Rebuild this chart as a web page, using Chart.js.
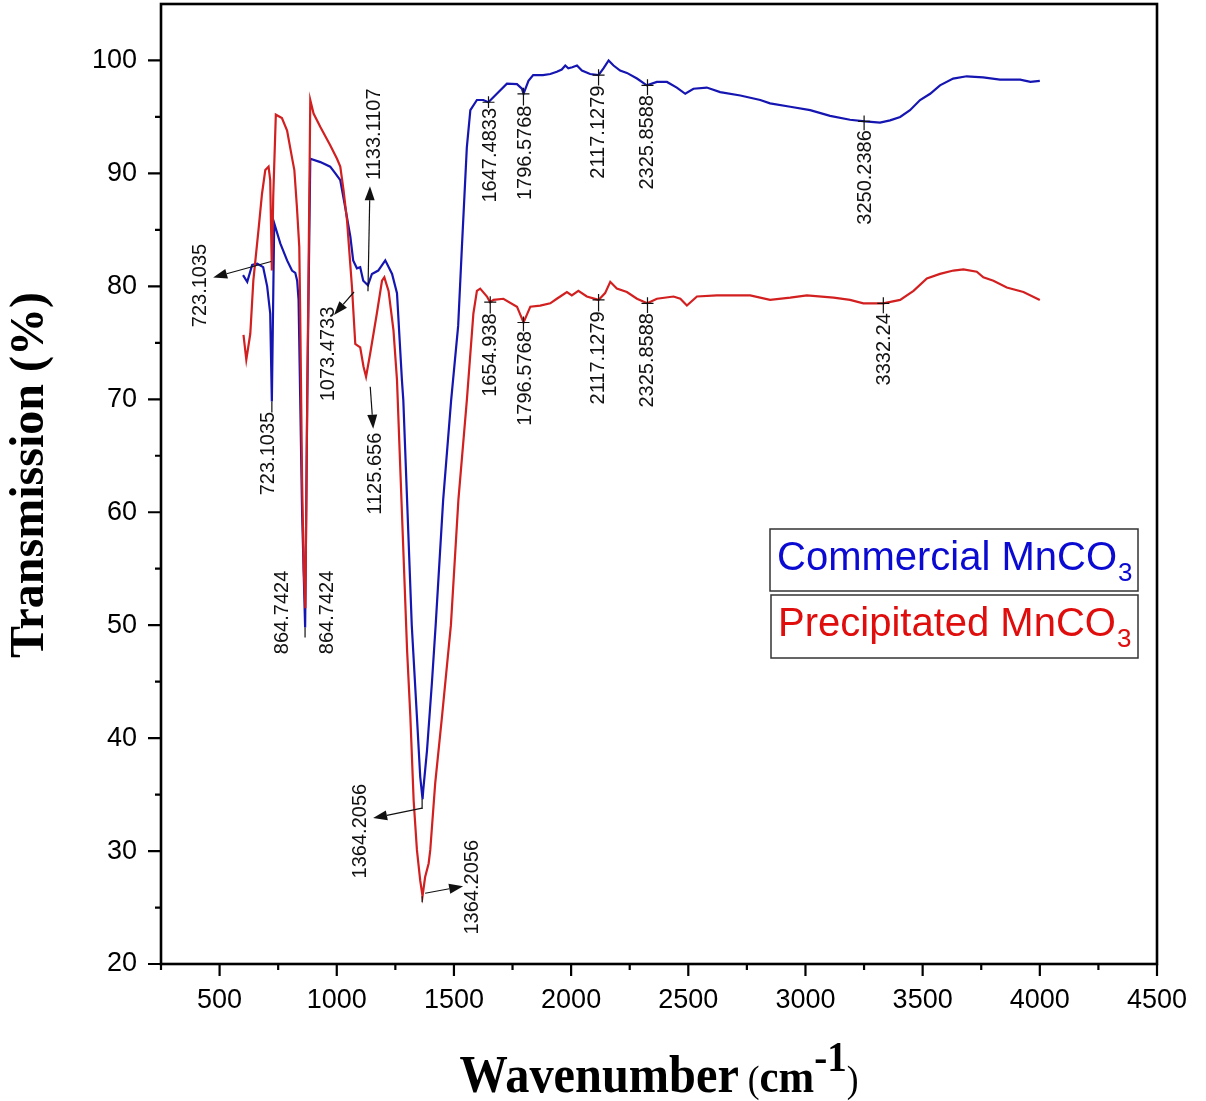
<!DOCTYPE html>
<html>
<head>
<meta charset="utf-8">
<script src="https://cdn.jsdelivr.net/npm/chart.js@4.4.0/dist/chart.umd.min.js"></script>
<style>
  html, body { margin: 0; padding: 0; background: #fff; }
  #wrap { width: 1206px; height: 1101px; }
</style>
</head>
<body>
<div id="wrap"><canvas id="ftir" width="1206" height="1101"></canvas></div>
<script>
// FTIR spectra of commercial vs precipitated MnCO3

const blueWn = [600, 618, 639, 661, 686, 703, 716, 723, 733, 759, 788, 809, 823, 831, 837, 852, 865, 874, 887, 930,
  972, 994, 1015, 1036, 1058, 1070, 1086, 1100, 1113, 1133, 1150, 1177, 1207, 1236, 1257, 1278, 1284, 1300, 1320, 1342,
  1356, 1366, 1369, 1385, 1406, 1422, 1454, 1488, 1518, 1534, 1555, 1570, 1598, 1625, 1647, 1683, 1726, 1769, 1790, 1797,
  1818, 1838, 1880, 1911, 1939, 1960, 1975, 1988, 2005, 2025, 2046, 2081, 2117, 2138, 2160, 2181, 2209, 2238, 2281, 2323,
  2366, 2409, 2451, 2487, 2522, 2579, 2636, 2722, 2807, 2849, 2935, 3020, 3105, 3190, 3254, 3318, 3361, 3404, 3446, 3489,
  3532, 3574, 3630, 3688, 3758, 3830, 3916, 3960, 4000];
const blueT = [81.0, 80.4, 81.9, 82.0, 81.7, 80.0, 77.6, 69.8, 85.6, 83.8, 82.3, 81.4, 81.2, 80.5, 78.8, 60.0, 49.8, 70.0, 91.3, 91.0,
  90.6, 90.0, 89.4, 87.0, 84.4, 82.3, 81.6, 81.7, 80.5, 80.1, 81.1, 81.4, 82.3, 81.1, 79.4, 71.7, 69.9, 61.1, 50.0, 41.9,
  36.6, 34.6, 35.4, 38.9, 44.9, 50.0, 61.1, 69.9, 76.5, 83.5, 92.3, 95.6, 96.5, 96.5, 96.3, 97.05, 97.95, 97.9, 97.5, 97.05,
  98.2, 98.7, 98.7, 98.8, 99.0, 99.2, 99.55, 99.3, 99.4, 99.55, 99.1, 98.8, 98.7, 99.3, 100.0, 99.55, 99.1, 98.9, 98.4, 97.8,
  98.1, 98.1, 97.6, 97.05, 97.5, 97.6, 97.2, 96.9, 96.5, 96.2, 95.9, 95.6, 95.1, 94.75, 94.6, 94.5, 94.7, 95.0, 95.6, 96.5,
  97.05, 97.8, 98.4, 98.6, 98.5, 98.3, 98.3, 98.1, 98.2];

const redWn = [602, 614, 631, 644, 666, 681, 695, 709, 716, 723, 729, 740, 766, 788, 809, 819, 830, 840, 844, 852,
  859, 866, 874, 887, 901, 930, 972, 1001, 1015, 1029, 1044, 1050, 1065, 1079, 1086, 1100, 1114, 1125, 1143, 1171,
  1193, 1203, 1221, 1242, 1257, 1278, 1300, 1314, 1328, 1342, 1356, 1366, 1377, 1392, 1399, 1420, 1449, 1487, 1519, 1555,
  1583, 1598, 1612, 1641, 1654, 1669, 1711, 1769, 1797, 1826, 1868, 1911, 1939, 1982, 2003, 2031, 2067, 2117, 2145, 2167,
  2195, 2238, 2281, 2325, 2366, 2437, 2466, 2494, 2537, 2622, 2764, 2849, 2935, 3006, 3120, 3190, 3247, 3332, 3404, 3461,
  3518, 3574, 3631, 3674, 3731, 3759, 3802, 3859, 3930, 4000];
const redT = [75.7, 73.5, 75.8, 80.5, 85.0, 88.2, 90.3, 90.6, 89.4, 81.4, 88.0, 95.2, 94.9, 93.8, 91.4, 90.3, 87.0, 83.5, 77.6, 62.8,
  55.0, 51.5, 70.0, 96.5, 95.3, 94.1, 92.5, 91.3, 90.6, 88.5, 85.8, 84.1, 79.9, 74.9, 74.8, 74.6, 72.9, 72.0, 74.1, 77.6,
  80.5, 80.8, 79.6, 76.1, 71.7, 60.0, 47.8, 41.9, 34.5, 30.1, 27.4, 26.0, 27.7, 28.9, 30.1, 36.0, 41.9, 50.0, 61.1, 69.9,
  77.6, 79.6, 79.8, 79.1, 78.6, 78.8, 78.9, 78.2, 76.8, 78.2, 78.3, 78.5, 78.9, 79.5, 79.2, 79.6, 79.1, 78.8, 79.4, 80.4,
  79.8, 79.5, 78.9, 78.5, 78.9, 79.1, 78.9, 78.3, 79.1, 79.2, 79.2, 78.8, 79.0, 79.2, 79.0, 78.8, 78.5, 78.5, 78.8, 79.6,
  80.7, 81.1, 81.4, 81.5, 81.3, 80.8, 80.5, 79.9, 79.5, 78.8];

const xTicks = [500, 1000, 1500, 2000, 2500, 3000, 3500, 4000, 4500];
const xMinor = [250, 750, 1250, 1750, 2250, 2750, 3250, 3750, 4250];
const yTicks = [20, 30, 40, 50, 60, 70, 80, 90, 100];
const yMinor = [25, 35, 45, 55, 65, 75, 85, 95];

// marked peaks: label text, wavenumber, transmission of the marked point
const peakText = ['723.1035', '723.1035', '864.7424', '864.7424', '1073.4733', '1133.1107', '1125.656', '1364.2056', '1364.2056',
  '1647.4833', '1796.5768', '2117.1279', '2325.8588', '3250.2386', '1654.938', '1796.5768', '2117.1279', '2325.8588', '3332.24'];
const peakWn = [720, 723.1, 864.7, 864.7, 1073.5, 1133.1, 1125.7, 1364.2, 1364.2,
  1647.5, 1796.6, 2117.1, 2325.9, 3250.2, 1654.9, 1796.6, 2117.1, 2325.9, 3332.2];
const peakT = [82.2, 69.8, 49.8, 49.8, 79.5, 80.1, 72.0, 34.6, 26.0,
  96.3, 97.05, 98.7, 97.8, 94.6, 78.6, 76.8, 78.8, 78.5, 78.5];

// how each peak label is drawn, offsets in px from the marked point
const peakStyle = [
  { arrow: [[0, 0], [-58, 16]], text: [-71, 24] },
  { lead: 11, text: [-3, 52] },
  { lead: 10, text: [-23, -15] },
  { text: [22, -15] },
  { arrow: [[0, 0], [-20, 23]], text: [-26, 62] },
  { arrow: [[0, 6], [2, -99]], text: [7, -151] },
  { arrow: [[4, 10], [7, 52]], text: [9, 97] },
  { lead: 10, arrow: [[0, 9], [-49, 19]], text: [-62, 32] },
  { lead: 6, arrow: [[3, -3], [41, -10]], text: [50, -9] },
  { cross: true, text: [2, 53] },
  { cross: true, text: [2, 59] },
  { cross: true, text: [0, 57] },
  { cross: true, text: [0, 57] },
  { cross: true, text: [1, 56] },
  { cross: true, text: [0, 53] },
  { cross: true, text: [2, 56] },
  { cross: true, text: [0, 58] },
  { cross: true, text: [0, 57] },
  { cross: true, text: [1, 46] }
];

const BLUE = '#1515b2';
const RED = '#d21f1f';
const sans = "'Liberation Sans', Arial, sans-serif";
const serif = "'Liberation Serif', 'Times New Roman', serif";

function toPoints(xs, ys) {
  return xs.map((x, i) => ({ x: x, y: ys[i] }));
}

function vText(ctx, str, cx, cy) {
  ctx.save();
  ctx.translate(cx, cy);
  ctx.rotate(-Math.PI / 2);
  ctx.textAlign = 'center';
  ctx.textBaseline = 'middle';
  ctx.fillText(str, 0, 0);
  ctx.restore();
}

function arrow(ctx, x1, y1, x2, y2) {
  const ang = Math.atan2(y2 - y1, x2 - x1);
  const len = 14, half = 5;
  ctx.beginPath();
  ctx.moveTo(x1, y1);
  ctx.lineTo(x2 - Math.cos(ang) * len, y2 - Math.sin(ang) * len);
  ctx.stroke();
  ctx.beginPath();
  ctx.moveTo(x2, y2);
  ctx.lineTo(x2 - Math.cos(ang) * len - Math.sin(ang) * half, y2 - Math.sin(ang) * len + Math.cos(ang) * half);
  ctx.lineTo(x2 - Math.cos(ang) * len + Math.sin(ang) * half, y2 - Math.sin(ang) * len - Math.cos(ang) * half);
  ctx.closePath();
  ctx.fill();
}

function legendBox(ctx, x, y, w, h, color, main, sub) {
  ctx.save();
  ctx.strokeStyle = '#333';
  ctx.lineWidth = 1.5;
  ctx.strokeRect(x, y, w, h);
  ctx.fillStyle = color;
  ctx.textAlign = 'left';
  ctx.textBaseline = 'alphabetic';
  ctx.font = `40px ${sans}`;
  ctx.fillText(main, x + 7, y + 41);
  const mw = ctx.measureText(main).width;
  ctx.font = `26px ${sans}`;
  ctx.fillText(sub, x + 7 + mw + 1, y + 52);
  ctx.restore();
}

const overlay = {
  id: 'overlay',
  afterDraw(chart) {
    const { ctx, chartArea: a, scales: { x, y } } = chart;
    ctx.save();

    // frame
    ctx.strokeStyle = '#000';
    ctx.lineWidth = 2.6;
    ctx.strokeRect(a.left, a.top, a.right - a.left, a.bottom - a.top);

    // tick marks, outward
    ctx.lineWidth = 2.2;
    ctx.beginPath();
    xTicks.forEach(v => { const p = x.getPixelForValue(v); ctx.moveTo(p, a.bottom); ctx.lineTo(p, a.bottom + 12); });
    xMinor.forEach(v => { const p = x.getPixelForValue(v); ctx.moveTo(p, a.bottom); ctx.lineTo(p, a.bottom + 6); });
    yTicks.forEach(v => { const p = y.getPixelForValue(v); ctx.moveTo(a.left, p); ctx.lineTo(a.left - 13, p); });
    yMinor.forEach(v => { const p = y.getPixelForValue(v); ctx.moveTo(a.left, p); ctx.lineTo(a.left - 6, p); });
    ctx.stroke();

    // peak labels
    ctx.font = `20px ${sans}`;
    ctx.fillStyle = '#111';
    ctx.strokeStyle = '#111';
    ctx.lineWidth = 1.2;
    peakText.forEach((str, i) => {
      const st = peakStyle[i];
      const px = x.getPixelForValue(peakWn[i]);
      const py = y.getPixelForValue(peakT[i]);
      const tw = ctx.measureText(str).width;
      const tx = px + st.text[0], ty = py + st.text[1];
      if (st.lead) {
        ctx.beginPath(); ctx.moveTo(px, py); ctx.lineTo(px, py + st.lead); ctx.stroke();
      }
      if (st.cross) {
        ctx.beginPath();
        ctx.moveTo(px - 6, py); ctx.lineTo(px + 6, py);
        ctx.moveTo(px, py - 6); ctx.lineTo(px, ty - tw / 2);
        ctx.stroke();
      }
      if (st.arrow) {
        arrow(ctx, px + st.arrow[0][0], py + st.arrow[0][1], px + st.arrow[1][0], py + st.arrow[1][1]);
      }
      vText(ctx, str, tx, ty);
    });

    // legend boxes
    legendBox(ctx, 770, 529, 368, 62, '#0a0ad2', 'Commercial MnCO', '3');
    legendBox(ctx, 771, 595, 367, 63, '#e00d0d', 'Precipitated MnCO', '3');

    // axis titles
    ctx.fillStyle = '#000';
    ctx.font = `bold 48px ${serif}`;
    vText(ctx, 'Transmission (%)', 31, 475);

    const parts = [
      { t: 'Wavenumber', f: `bold 52px ${serif}`, dy: 0 },
      { t: ' (', f: `38px ${serif}`, dy: 0 },
      { t: 'cm', f: `bold 46px ${serif}`, dy: 0 },
      { t: '-1', f: `bold 42px ${serif}`, dy: -21 },
      { t: ')', f: `38px ${serif}`, dy: 0 }
    ];
    const sx = 0.93;
    let total = 0;
    parts.forEach(p => { ctx.font = p.f; p.w = ctx.measureText(p.t).width; total += p.w; });
    ctx.save();
    ctx.translate((a.left + a.right) / 2 - total * sx / 2, 1092);
    ctx.scale(sx, 1);
    ctx.textAlign = 'left';
    ctx.textBaseline = 'alphabetic';
    let cx = 0;
    parts.forEach(p => { ctx.font = p.f; ctx.fillText(p.t, cx, p.dy); cx += p.w; });
    ctx.restore();

    ctx.restore();
  }
};

const tickGrid = { display: true, drawOnChartArea: false, color: 'transparent' };

new Chart(document.getElementById('ftir').getContext('2d'), {
  type: 'scatter',
  data: {
    datasets: [
      { label: 'Precipitated MnCO3', data: toPoints(redWn, redT), borderColor: RED, backgroundColor: RED,
        showLine: true, pointRadius: 0, borderWidth: 2.2, tension: 0 },
      { label: 'Commercial MnCO3', data: toPoints(blueWn, blueT), borderColor: BLUE, backgroundColor: BLUE,
        showLine: true, pointRadius: 0, borderWidth: 2.2, tension: 0 }
    ]
  },
  options: {
    responsive: false,
    animation: false,
    layout: { padding: { left: 0, top: 4, right: 49, bottom: 0 } },
    plugins: { legend: { display: false }, tooltip: { enabled: false } },
    scales: {
      x: {
        type: 'linear', min: 250, max: 4500,
        afterBuildTicks: s => { s.ticks = xTicks.map(v => ({ value: v })); },
        afterFit: s => { s.height = 137; s.paddingLeft = 0; s.paddingRight = 0; },
        grid: { ...tickGrid, tickLength: 12 },
        border: { display: false },
        ticks: { font: { family: sans, size: 27 }, color: '#000', padding: 8, maxRotation: 0, autoSkip: false,
          callback: v => String(v) }
      },
      y: {
        type: 'linear', min: 20, max: 105,
        afterBuildTicks: s => { s.ticks = yTicks.map(v => ({ value: v })); },
        afterFit: s => { s.width = 161; s.paddingTop = 0; s.paddingBottom = 0; },
        grid: { ...tickGrid, tickLength: 13 },
        border: { display: false },
        ticks: { font: { family: sans, size: 27 }, color: '#000', padding: 11, autoSkip: false,
          callback: v => String(v) }
      }
    }
  },
  plugins: [overlay]
});
</script>
</body>
</html>
